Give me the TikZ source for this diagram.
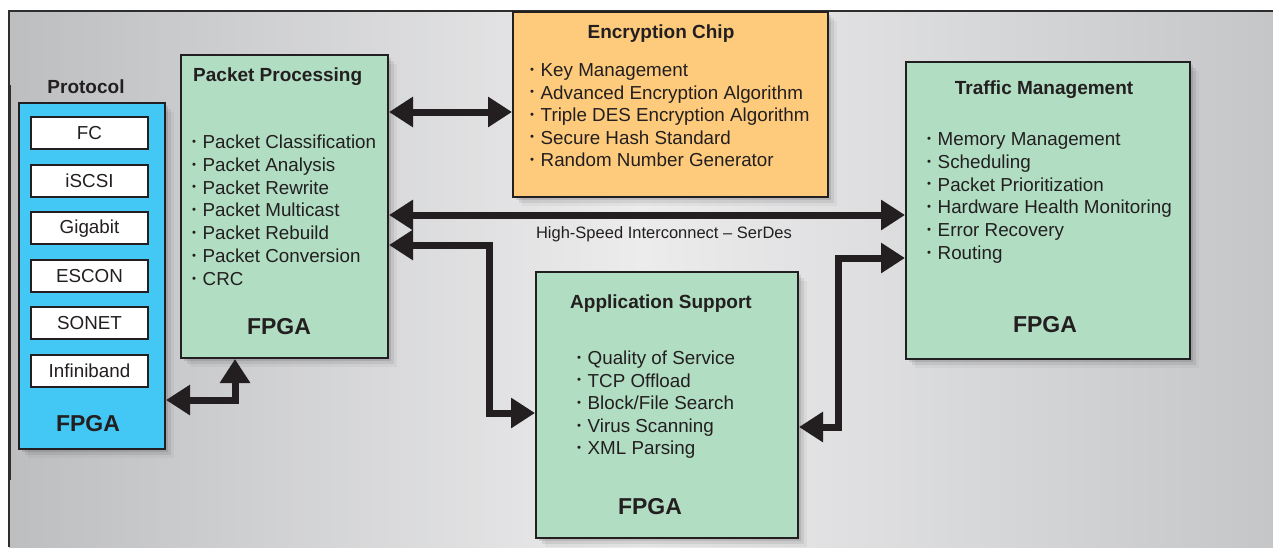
\documentclass[tikz,border=0pt]{standalone}
\usepackage{fontspec}
\setmainfont{Liberation Sans}
\usetikzlibrary{arrows.meta,shadows,calc}
\definecolor{ink}{HTML}{231F20}
\definecolor{frameC}{HTML}{2E2E2E}
\definecolor{greenC}{HTML}{B1DDC2}
\definecolor{orangeC}{HTML}{FDCB7B}
\definecolor{blueC}{HTML}{43C7F4}
\definecolor{bgL}{HTML}{BDBEC0}
\definecolor{bgM}{HTML}{ECECED}
\definecolor{bgR}{HTML}{C5C6C8}
\newcommand\bul{\raisebox{0.32ex}{\scalebox{0.6}{•}}}
\begin{document}
\begin{tikzpicture}[x=1pt,y=-1pt,
  box/.style={draw=ink, line width=2pt, anchor=north west, inner sep=0pt,
    general shadow={shadow xshift=3pt,shadow yshift=-3pt,fill=black,opacity=0.10},
    general shadow={shadow xshift=6pt,shadow yshift=-6pt,fill=black,opacity=0.07},
    general shadow={shadow xshift=9pt,shadow yshift=-9pt,fill=black,opacity=0.04}},
  wbox/.style={draw=ink, line width=2pt, fill=white, anchor=north west, inner sep=0pt,
    minimum width=117pt, minimum height=32pt},
  ptxt/.style={text=ink, font=\fontsize{18.8}{22}\selectfont, inner sep=0pt},
  ttl/.style={text=ink, font=\bfseries\fontsize{19}{22}\selectfont, inner sep=0pt},
  fpga/.style={text=ink, font=\bfseries\fontsize{23}{26}\selectfont, inner sep=0pt},
  item/.style={text=ink, font=\fontsize{18.8}{22}\selectfont, inner sep=0pt, anchor=base west},
  arr/.style={draw=ink, line width=7pt, line join=miter,
    {Triangle[length=24pt,width=29pt]}-{Triangle[length=24pt,width=29pt]}}
]
\useasboundingbox (0,0) rectangle (1273,547);
% background
\shade[left color=bgL, right color=bgR, middle color=bgM] (9,11) rectangle (1273,547);
\draw[frameC, line width=1.6pt] (9,547) -- (9,11) -- (1273,11);
\draw[frameC, line width=3pt] (9.5,85) -- (9.5,480);

% boxes
\node[box, fill=blueC, minimum width=146pt, minimum height=346pt] (proto) at (18,102) {};
\node[box, fill=greenC, minimum width=207pt, minimum height=303pt] (pp) at (180,54) {};
\node[box, fill=orangeC, minimum width=315pt, minimum height=185pt] (enc) at (512,11) {};
\node[box, fill=greenC, minimum width=262pt, minimum height=266pt] (app) at (535,271) {};
\node[box, fill=greenC, minimum width=284pt, minimum height=297pt] (tm) at (905,61) {};

% protocol column
\node[ttl] (protot) at (86,87) {Protocol};
\foreach \t [count=\i] in {FC,iSCSI,Gigabit,ESCON,SONET,Infiniband}{
  \node[wbox] (w\i) at (30,{116+47.6*(\i-1)}) {};
  \node[ptxt] (wt\i) at (w\i.center) {\t};
}
\node[fpga] (protof) at (88,424) {FPGA};

% packet processing
\node[ttl, anchor=west] (ppt) at (193,77) {Packet Processing};
\foreach \t [count=\i] in {Packet Classification,Packet Analysis,Packet Rewrite,Packet Multicast,Packet Rebuild,Packet Conversion,CRC}{
  \node[item] (ppi\i) at (192,{148.5+22.8*(\i-1)}) {\makebox[10.5pt][l]{\bul}\t};
}
\node[fpga] (ppf) at (279,327) {FPGA};

% encryption chip
\node[ttl] (enct) at (661,34) {Encryption Chip};
\foreach \t [count=\i] in {Key Management,Advanced Encryption Algorithm,Triple DES Encryption Algorithm,Secure Hash Standard,Random Number Generator}{
  \node[item] (enci\i) at (530,{76.5+22.5*(\i-1)}) {\makebox[10.5pt][l]{\bul}\t};
}

% application support
\node[ttl] (appt) at (661,304) {Application Support};
\foreach \t [count=\i] in {Quality of Service,TCP Offload,Block/File Search,Virus Scanning,XML Parsing}{
  \node[item] (appi\i) at (577,{364.5+22.6*(\i-1)}) {\makebox[10.5pt][l]{\bul}\t};
}
\node[fpga] (appf) at (650,507) {FPGA};

% traffic management
\node[ttl] (tmt) at (1044,90) {Traffic Management};
\foreach \t [count=\i] in {Memory Management,Scheduling,Packet Prioritization,Hardware Health Monitoring,Error Recovery,Routing}{
  \node[item] (tmi\i) at (927,{145.5+22.8*(\i-1)}) {\makebox[10.5pt][l]{\bul}\t};
}
\node[fpga] (tmf) at (1045,325) {FPGA};

% connectors
\draw[arr] (pp.east |- 0,112) -- (enc.west |- 0,112);
\draw[arr] (pp.east |- 0,215) -- (tm.west |- 0,215);
\node[ptxt, font=\fontsize{16.5}{20}\selectfont] (hs) at (664,234) {High-Speed Interconnect – SerDes};
\coordinate (c1) at (489,413);
\draw[arr] (pp.east |- 0,245) -| (c1) -- (app.west |- c1);
\coordinate (c2) at (838,427);
\draw[arr] (tm.west |- 0,258) -| (c2) -- (app.east |- c2);
\coordinate (c3) at (235,400);
\draw[arr] (proto.east |- c3) -- (c3) -- (pp.south -| c3);
\end{tikzpicture}
\end{document}
